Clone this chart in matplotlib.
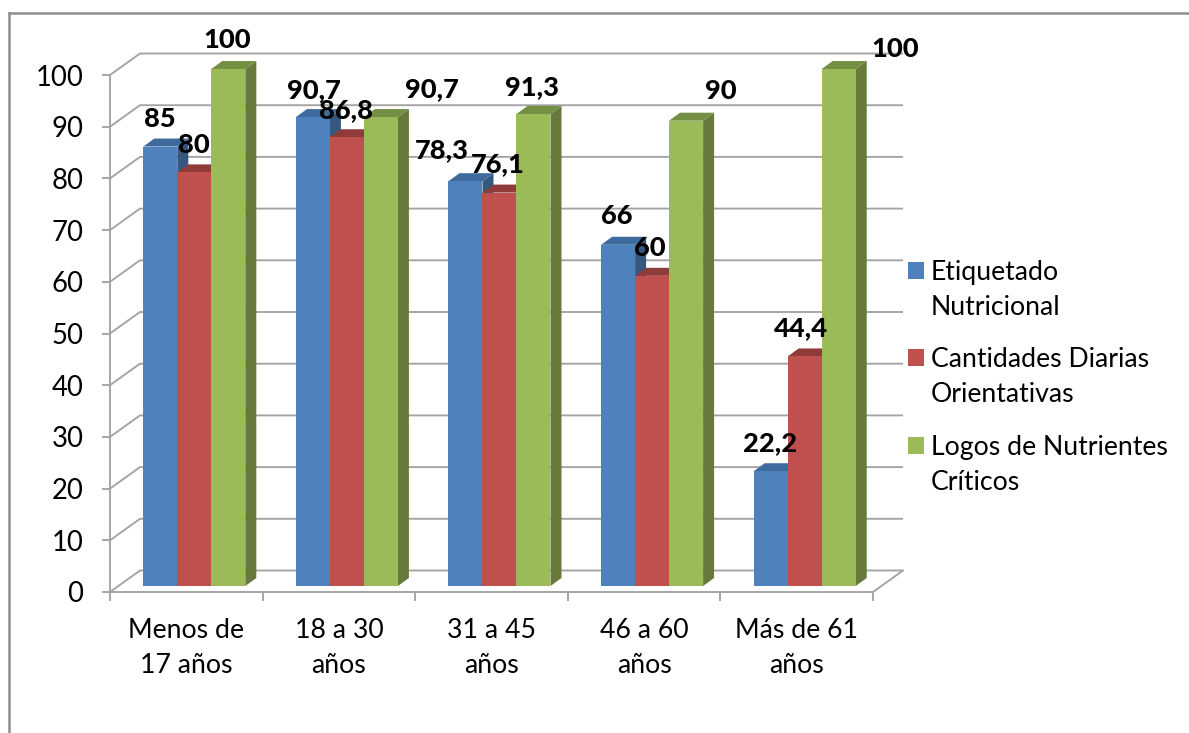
import matplotlib
matplotlib.use("Agg")
import matplotlib.pyplot as plt
import numpy as np
from matplotlib.legend_handler import HandlerPatch
from matplotlib.lines import Line2D
from matplotlib.patches import Patch, Polygon, Rectangle

plt.rcParams["font.family"] = ["Lato", "DejaVu Sans"]

# Survey results by age group
categories = ["Menos de\n17 años", "18 a 30\naños", "31 a 45\naños", "46 a 60\naños", "Más de 61\naños"]
etiquetado = [85, 90.7, 78.3, 66, 22.2]
cantidades = [80, 86.8, 76.1, 60, 44.4]
logos = [100, 90.7, 91.3, 90, 100]
series_names = ["Etiquetado\nNutricional", "Cantidades Diarias\nOrientativas", "Logos de Nutrientes\nCríticos"]
y_ticks = list(range(0, 101, 10))

W, H = 1189, 733
# Plot box edges in pixels, measured from the top-left corner
LEFT, RIGHT, TOP, BOTTOM = 110, 873, 75, 592
PX_X = (RIGHT - LEFT) / 5      # pixels per category
PX_Y = (BOTTOM - TOP) / 100    # pixels per value unit

fig = plt.figure(figsize=(W / 100, H / 100), dpi=100, facecolor="white")
ax = fig.add_axes([LEFT / W, 1 - BOTTOM / H, (RIGHT - LEFT) / W, (BOTTOM - TOP) / H])
ax.set_xlim(0, 5)
ax.set_ylim(0, 100)
ax.patch.set_visible(False)

GRID = "#A3A3A3"
FONT = 19.2
BOLD_FONT = 19.6
LINE_W = 1.35

# Depth of the back wall and of the bars, converted to data units
WALL_X, WALL_Y = 30 / PX_X, 21.5 / PX_Y
DEPTH_X, DEPTH_Y = 11 / PX_X, 8 / PX_Y
BAR_W = 34 / PX_X
BAR_START = 33.3 / PX_X
BAR_BASE = 6 / PX_Y

# Back wall gridlines and the diagonals joining them to the value axis
for v in y_ticks:
    ax.plot([0, WALL_X, 5 + WALL_X], [v, v + WALL_Y, v + WALL_Y], color=GRID,
            lw=LINE_W, clip_on=False, zorder=1, solid_capstyle="butt")
ax.plot([5, 5 + WALL_X], [0, WALL_Y], color=GRID, lw=LINE_W, clip_on=False, zorder=1)

face_colors = ["#4F81BD", "#C0504D", "#9BBB59"]
top_colors = ["#3E6A9E", "#8F3B3A", "#728F42"]
side_colors = ["#36587F", "#8A3A38", "#67793B"]
all_series = [etiquetado, cantidades, logos]

for i in range(len(categories)):
    for j, values in enumerate(all_series):
        x0 = i + BAR_START + j * BAR_W
        x1 = x0 + BAR_W
        y0 = BAR_BASE
        y1 = BAR_BASE + values[i]
        z = 3 + i * 3 + j
        ax.add_patch(Polygon([(x1, y0), (x1 + DEPTH_X, y0 + DEPTH_Y), (x1 + DEPTH_X, y1 + DEPTH_Y), (x1, y1)],
                             closed=True, fc=side_colors[j], ec="none", clip_on=False, zorder=z))
        ax.add_patch(Polygon([(x0, y1), (x0 + DEPTH_X, y1 + DEPTH_Y), (x1 + DEPTH_X, y1 + DEPTH_Y), (x1, y1)],
                             closed=True, fc=top_colors[j], ec="none", clip_on=False, zorder=z))
        ax.bar(x0, values[i], width=BAR_W, bottom=y0, align="edge", color=face_colors[j],
               clip_on=False, zorder=z + 0.5, linewidth=0)

# Value labels sit by hand around the bars; offsets are in pixels from the front top centre
label_offsets = [
    [(0, 28), (0, 27), (-1, 29)],
    [(1, 27), (-1, 27), (51, 28)],
    [(-24, 31), (-2, 28), (-2, 27)],
    [(-1, 29), (-2, 28), (35, 30)],
    [(-1, 28), (-4, 28), (56, 20)],
]
for i in range(len(categories)):
    for j, values in enumerate(all_series):
        cx = i + BAR_START + (j + 0.5) * BAR_W
        ax.annotate(str(values[i]).replace(".", ","), xy=(cx, BAR_BASE + values[i]),
                    xytext=label_offsets[i][j], textcoords="offset pixels",
                    ha="center", va="center", fontsize=BOLD_FONT, fontweight="black",
                    color="black", zorder=40, annotation_clip=False)

# Axes
for side in ("top", "right"):
    ax.spines[side].set_visible(False)
for side in ("left", "bottom"):
    ax.spines[side].set_color(GRID)
    ax.spines[side].set_linewidth(LINE_W)
    ax.spines[side].set_zorder(2)
ax.set_yticks(y_ticks)
ax.set_xticks(np.arange(0, 6))
ax.set_xticklabels([])
ax.set_xticks(np.arange(len(categories)) + 0.5, categories, minor=True)
ax.tick_params(axis="y", length=6, width=LINE_W, color=GRID, labelsize=FONT + 0.6, pad=13, labelcolor="black")
ax.tick_params(axis="x", which="major", length=6.5, width=LINE_W, color=GRID)
ax.tick_params(axis="x", which="minor", length=0, labelsize=FONT, pad=19, labelcolor="black")
for lab in ax.get_xminorticklabels():
    lab.set_linespacing(1.5)
    lab.set_horizontalalignment("center")


def square_on_first_line(legend, orig_handle, xdescent, ydescent, width, height, fontsize):
    # Legend keys line up with the first line of their two-line label
    return Rectangle((-xdescent, -ydescent + 14.5), width, height)


# Legend
handles = [Patch(fc=c, ec="none") for c in face_colors]
leg = fig.legend(handles, series_names, loc="upper left", bbox_to_anchor=(908 / W, 1 - 260 / H),
                 frameon=False, fontsize=FONT, handlelength=0.6, handleheight=0.6,
                 handletextpad=0.25, labelspacing=1.03, borderpad=0, borderaxespad=0,
                 handler_map={Patch: HandlerPatch(patch_func=square_on_first_line)})
for t in leg.get_texts():
    t.set_linespacing(1.5)

# Frame of the chart area: top and left edges only
frame = "#8E8E8E"
fig.add_artist(Line2D([9 / W, 1], [1 - 13 / H, 1 - 13 / H], color=frame, lw=1.8))
fig.add_artist(Line2D([9 / W, 9 / W], [1 - 13 / H, 0], color=frame, lw=1.8))

fig.savefig("out.png", dpi=100)
